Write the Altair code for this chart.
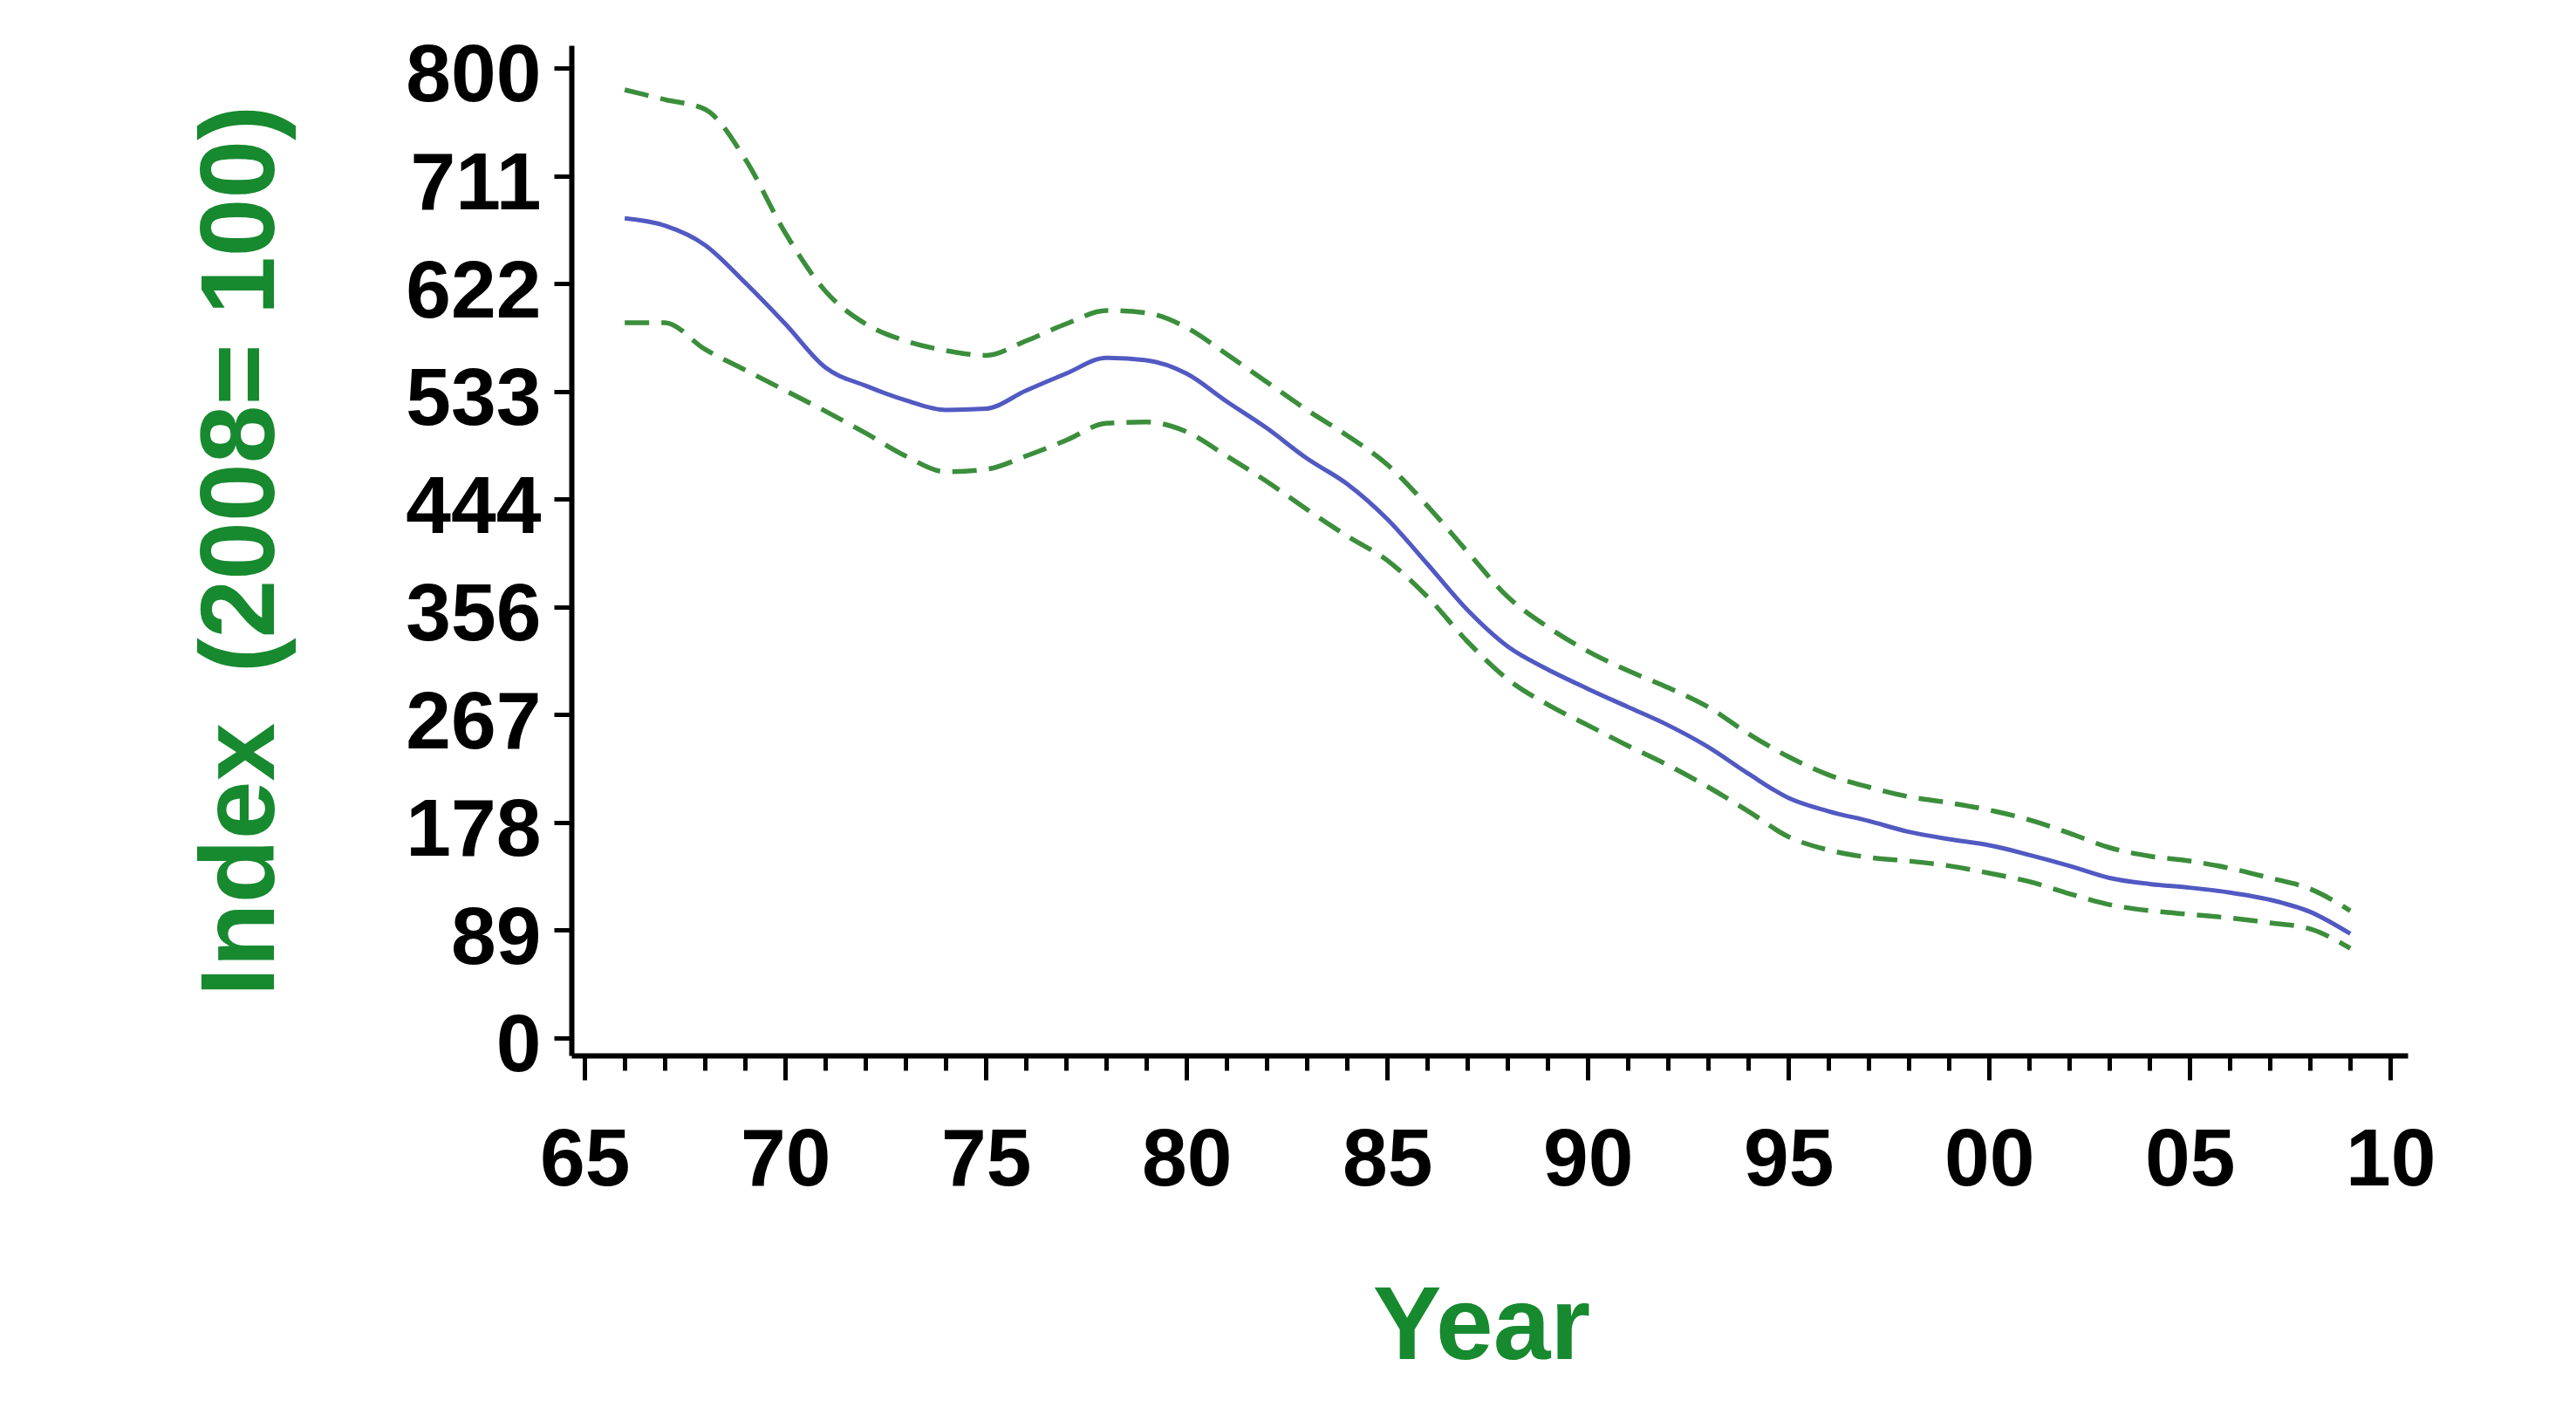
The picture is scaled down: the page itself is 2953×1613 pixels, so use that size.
import json
import altair as alt
import pandas as pd

# ---- data ----
YEARS = list(range(1966, 2010))
CENTRAL = [676, 670, 654, 623, 589, 553, 538, 526, 518, 519, 534, 548, 561, 559, 548,
           525, 503, 478, 457, 428, 391, 353, 323, 304, 288, 273, 258, 240, 218, 198,
           187, 179, 170, 164, 159, 151, 142, 132, 127, 124, 120, 114, 104, 86]
UPPER = [782, 774, 766, 725, 664, 616, 589, 575, 567, 563, 575, 589, 600, 598, 586,
         564, 541, 518, 497, 473, 439, 401, 364, 339, 319, 303, 289, 273, 251, 232,
         217, 207, 199, 194, 188, 180, 169, 157, 150, 146, 140, 132, 123, 105]
LOWER = [590, 590, 568, 551, 534, 517, 499, 480, 467, 469, 480, 493, 507, 508, 500,
         480, 459, 436, 414, 394, 364, 327, 296, 275, 258, 241, 225, 207, 187, 166,
         155, 149, 146, 142, 136, 129, 119, 110, 105, 102, 99, 95, 90, 74]

X_MAJOR_TICKS = [1965, 1970, 1975, 1980, 1985, 1990, 1995, 2000, 2005, 2010]
X_MINOR_TICKS = list(range(1965, 2011))
Y_TICKS = [i * 800 / 9 for i in range(10)]
Y_TICK_LABELS = ["0", "89", "178", "267", "356", "444", "533", "622", "711", "800"]

X_TITLE = "Year"
Y_TITLE = "Index \u2009(2008= 100)"

df = pd.DataFrame({"year": YEARS, "mid": CENTRAL, "upper": UPPER, "lower": LOWER})

GREEN_TITLE = "#17892f"
GREEN_LINE = "#3b8e3b"
BLUE_LINE = "#5159c2"
FONT = "Liberation Sans"

xscale = alt.Scale(domain=[1964.67, 2010.43], nice=False, zero=False)
yscale = alt.Scale(domain=[-14.4, 818.7], nice=False, zero=False)

x_major_axis = alt.Axis(
    orient="bottom", values=X_MAJOR_TICKS,
    labelExpr="slice(toString(datum.value), 2)",
    grid=False, domain=True, domainColor="black", domainWidth=6,
    ticks=True, tickSize=28, tickWidth=5, tickColor="black",
    labelFont=FONT, labelFontSize=93, labelFontWeight="bold", labelColor="black",
    labelPadding=47, labelFlush=False, labelOverlap=False,
    title=X_TITLE, titleFont=FONT, titleFontSize=118, titleFontWeight="bold",
    titleColor=GREEN_TITLE, titleX=1043, titleY=347, titleBaseline="alphabetic",
    titleAlign="center", titleAnchor="middle",
)
x_minor_axis = alt.Axis(
    orient="bottom", values=X_MINOR_TICKS, labels=False, domain=False, grid=False,
    ticks=True, tickSize=17, tickWidth=5, tickColor="black", title=None,
)
y_axis = alt.Axis(
    orient="left", values=Y_TICKS,
    labelExpr=json.dumps(Y_TICK_LABELS) + "[round(datum.value * 9 / 800)]",
    grid=False, domain=True, domainColor="black", domainWidth=6,
    ticks=True, tickSize=20, tickWidth=5, tickColor="black",
    labelFont=FONT, labelFontSize=93, labelFontWeight="bold", labelColor="black",
    labelPadding=15, labelOffset=10, labelFlush=False, labelOverlap=False,
    title=Y_TITLE, titleFont=FONT, titleFontSize=120, titleFontWeight="bold",
    titleColor=GREEN_TITLE, titleAngle=270, titleX=-342, titleY=579,
    titleBaseline="alphabetic", titleAlign="center",
)

base = alt.Chart(df)

mid_line = base.mark_line(color=BLUE_LINE, strokeWidth=5, interpolate="monotone").encode(
    x=alt.X("year:Q", scale=xscale, axis=x_major_axis),
    y=alt.Y("mid:Q", scale=yscale, axis=y_axis),
)
upper_line = base.mark_line(color=GREEN_LINE, strokeWidth=5.5, strokeDash=[28, 14],
                            interpolate="monotone").encode(
    x=alt.X("year:Q", scale=xscale, axis=x_minor_axis),
    y=alt.Y("upper:Q", scale=yscale, axis=None),
)
lower_line = base.mark_line(color=GREEN_LINE, strokeWidth=5.5, strokeDash=[28, 14],
                            interpolate="monotone").encode(
    x=alt.X("year:Q", scale=xscale, axis=None),
    y=alt.Y("lower:Q", scale=yscale, axis=None),
)

chart = (
    alt.layer(mid_line, upper_line, lower_line)
    .resolve_axis(x="independent", y="independent")
    .properties(
        width=2105, height=1158,
        autosize=alt.AutoSizeParams(type="none"),
        padding={"left": 647, "top": 44, "right": 170, "bottom": 380},
        background="white",
    )
    .configure_view(stroke=None)
)

chart.save("out.html", embed_options={"renderer": "svg", "actions": False})
